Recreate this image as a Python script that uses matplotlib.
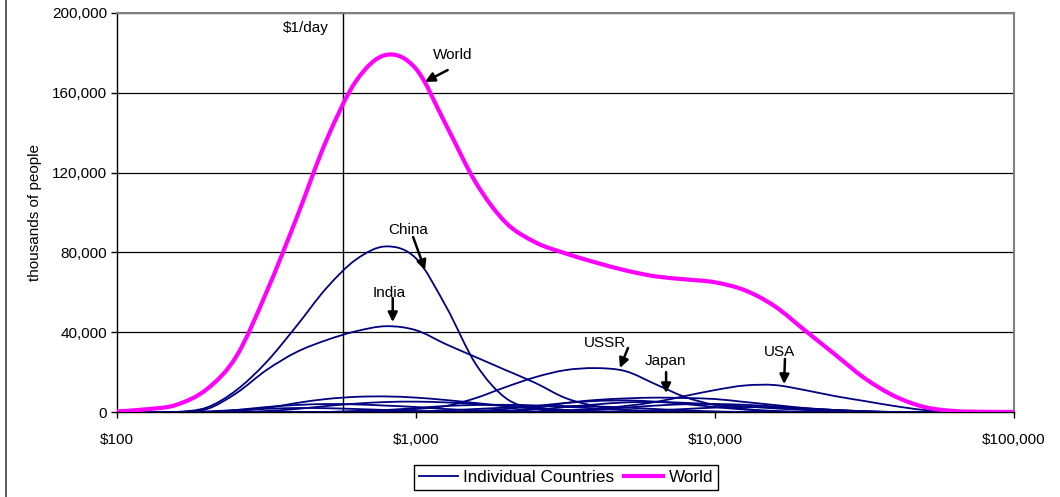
import matplotlib
matplotlib.use('Agg')
import matplotlib.pyplot as plt
import numpy as np
from matplotlib.lines import Line2D
from matplotlib.path import Path
from matplotlib.patches import PathPatch
from matplotlib.ticker import FixedLocator, FuncFormatter, NullLocator

plt.rcParams['font.family'] = ['Liberation Sans', 'DejaVu Sans']

# income grid: ten steps per decade from $100 to $100,000
income = [100, 126, 158, 200, 251, 316, 398, 501, 631, 794,
          1000, 1259, 1585, 1995, 2512, 3162, 3981, 5012, 6310, 7943,
          10000, 12589, 15849, 19953, 25119, 31623, 39811, 50119, 63096, 79433,
          100000]

# thousands of people
world = [0.3, 1.4, 3.6, 11.5, 28, 60, 97, 136, 166, 179,
         172, 144, 115, 95, 85, 79.5, 75, 71, 68, 66.5,
         65, 61, 53, 41, 29, 17, 8, 2.5, 0.5, 0.1, 0]
china = [0, 0, 0, 2.3, 11, 25, 43, 62, 76.5, 83,
         77, 53, 24, 7, 1.5, 0.3, 0, 0, 0, 0,
         0, 0, 0, 0, 0, 0, 0, 0, 0, 0, 0]
india = [0, 0, 0, 1.5, 9.5, 21, 30, 36, 40.5, 43,
         41, 34, 27.5, 21, 14.5, 7, 3, 1, 0.3, 0,
         0, 0, 0, 0, 0, 0, 0, 0, 0, 0, 0]
ussr = [0, 0, 0, 0, 0, 0, 0, 0, 0.3, 0.8,
        1.5, 3, 7, 12.5, 17.5, 21, 22, 20.5, 14, 7.5,
        3.5, 1.5, 0.5, 0, 0, 0, 0, 0, 0, 0, 0]
japan = [0, 0, 0, 0, 0, 0, 0, 0, 0, 0,
         0, 0, 0, 0.5, 2, 4.5, 6, 6.8, 7.2, 7,
         6.5, 5, 3.5, 2, 1, 0.3, 0, 0, 0, 0, 0]
usa = [0, 0, 0, 0, 0, 0, 0, 0, 0, 0,
       0, 0, 0, 0, 0, 0.8, 1.5, 3, 5, 8,
       11, 13.3, 13.5, 11, 8, 5.5, 3, 1, 0.2, 0, 0]
others = [
    [0, 0, 0, 0, 0.5, 2, 4.5, 6.5, 7.6, 7.8, 7.2, 6, 4.5, 3, 1.8, 0.8, 0.3, 0, 0, 0, 0, 0, 0, 0, 0, 0, 0, 0, 0, 0, 0],
    [0, 0, 0, 0, 0, 0.5, 1.5, 3, 4.2, 5, 5.2, 4.8, 4, 3, 2, 1, 0.4, 0, 0, 0, 0, 0, 0, 0, 0, 0, 0, 0, 0, 0, 0],
    [0, 0, 0, 0, 1, 2.5, 3.5, 4, 3.8, 3.2, 2.5, 1.5, 0.8, 0.3, 0, 0, 0, 0, 0, 0, 0, 0, 0, 0, 0, 0, 0, 0, 0, 0, 0],
    [0, 0, 0, 0, 0, 0, 0, 0, 0.5, 1, 2, 3, 3.5, 3.6, 3.3, 2.6, 1.8, 1, 0.5, 0, 0, 0, 0, 0, 0, 0, 0, 0, 0, 0, 0],
    [0, 0, 0, 0, 0, 0, 0, 0, 0, 0, 0, 0, 0, 0.5, 1.2, 2.5, 3.8, 4.8, 5, 4.6, 3.8, 2.8, 1.8, 1, 0.4, 0, 0, 0, 0, 0, 0],
    [0, 0, 0, 0, 0, 0, 0, 0, 0, 0, 0, 0, 0, 0, 0, 0.5, 1.2, 2.2, 3.2, 3.9, 4, 3.6, 2.8, 1.8, 1, 0.4, 0, 0, 0, 0, 0],
    [0, 0, 0, 0, 0, 0, 0, 0, 0, 0, 0.3, 0.8, 1.5, 2.2, 2.8, 3, 2.8, 2.2, 1.5, 0.8, 0.3, 0, 0, 0, 0, 0, 0, 0, 0, 0, 0],
    [0, 0, 0, 0, 0, 0, 0, 0, 0, 0, 0, 0, 0, 0, 0, 0, 0, 0.3, 0.8, 1.5, 2.2, 2.5, 2.3, 1.7, 1, 0.4, 0, 0, 0, 0, 0],
    [0, 0, 0, 0.3, 1, 1.6, 2, 1.9, 1.5, 1, 0.5, 0.2, 0, 0, 0, 0, 0, 0, 0, 0, 0, 0, 0, 0, 0, 0, 0, 0, 0, 0, 0],
    [0, 0, 0, 0, 0, 0, 0, 0, 0, 0, 0, 0, 0.5, 1.5, 3, 4.5, 5.5, 5.8, 5.2, 4, 2.5, 1.2, 0.4, 0, 0, 0, 0, 0, 0, 0, 0],
]

one_dollar_day = 570
x_ticks = [100, 1000, 10000, 100000]
y_ticks = [0, 40000, 80000, 120000, 160000, 200000]

# label, text position, arrow tail, arrow tip (income, people)
labels = [
    ('World', (1330, 179000), (1276, 171400), (1072, 165500)),
    ('China', (940, 91200), (978, 87700), (1072, 71200)),
    ('India', (813, 59600), (836, 57100), (836, 45100)),
    ('USSR', (4285, 34600), (5117, 32100), (4810, 22100)),
    ('Japan', (6808, 25600), (6862, 20000), (6862, 9500)),
    ('USA', (16370, 30000), (17140, 26600), (17020, 14000)),
]

NAVY = '#000080'
MAGENTA = '#FF00FF'


def smooth_line(ax, xs, ys, color, lw, zorder):
    # Excel-style smoothed line: Catmull-Rom segments as cubic Beziers in log-x space
    lx = np.log10(np.asarray(xs, dtype=float))
    y = np.asarray(ys, dtype=float)
    px = np.concatenate([[lx[0]], lx, [lx[-1]]])
    py = np.concatenate([[y[0]], y, [y[-1]]])
    verts = [(xs[0], y[0])]
    codes = [Path.MOVETO]
    for i in range(1, len(lx)):
        c1x = px[i] + (px[i + 1] - px[i - 1]) / 6
        c1y = py[i] + (py[i + 1] - py[i - 1]) / 6
        c2x = px[i + 1] - (px[i + 2] - px[i]) / 6
        c2y = py[i + 1] - (py[i + 2] - py[i]) / 6
        verts += [(10 ** c1x, max(c1y, 0)), (10 ** c2x, max(c2y, 0)), (10 ** px[i + 1], py[i + 1])]
        codes += [Path.CURVE4] * 3
    ax.add_patch(PathPatch(Path(verts, codes), fill=False, edgecolor=color, lw=lw,
                           zorder=zorder, capstyle='butt'))


fig = plt.figure(figsize=(10.6, 4.97), dpi=100)
ax = fig.add_axes([117 / 1060, 1 - 412 / 497, (1014 - 117) / 1060, (412 - 13) / 497])
ax.set_xscale('log')
ax.set_xlim(100, 100000)
ax.set_ylim(0, 200000)

k = 1000
for s in others + [usa, japan, ussr, india, china]:
    smooth_line(ax, income, [v * k for v in s], NAVY, 1.3, 3)
smooth_line(ax, income, [v * k for v in world], MAGENTA, 3, 4)

ax.axvline(one_dollar_day, color='black', lw=1.0, zorder=2)
ax.text(one_dollar_day / 1.113, 192500, '$1/day', ha='right', va='center', fontsize=11)

ax.xaxis.set_major_locator(FixedLocator(x_ticks))
ax.xaxis.set_minor_locator(NullLocator())
ax.xaxis.set_major_formatter(FuncFormatter(lambda v, p: '${:,.0f}'.format(v)))
ax.yaxis.set_major_locator(FixedLocator(y_ticks))
ax.yaxis.set_major_formatter(FuncFormatter(lambda v, p: '{:,.0f}'.format(v)))
ax.tick_params(axis='both', direction='out', length=4, width=1, labelsize=11, colors='black')
ax.tick_params(axis='x', pad=11)
ax.tick_params(axis='y', pad=3)
ax.yaxis.grid(True, color='black', lw=0.9, zorder=1)
ax.set_axisbelow(True)
ax.set_ylabel('thousands of people', fontsize=11, labelpad=7)

for side in ['top', 'right']:
    ax.spines[side].set_color('#808080')
    ax.spines[side].set_linewidth(1.5)
for side in ['left', 'bottom']:
    ax.spines[side].set_color('black')
    ax.spines[side].set_linewidth(1.0)

for name, pos, tail, tip in labels:
    ax.text(pos[0], pos[1], name, ha='center', va='center', fontsize=11, zorder=6)
    ax.annotate('', xy=tip, xytext=tail,
                arrowprops=dict(arrowstyle='-|>', lw=1.8, color='black', mutation_scale=14,
                                shrinkA=0, shrinkB=0),
                zorder=6)

handles = [Line2D([0], [0], color=NAVY, lw=1.3), Line2D([0], [0], color=MAGENTA, lw=3)]
fig.legend(handles, ['Individual Countries', 'World'], loc='center',
           bbox_to_anchor=(566 / 1060, 1 - 477.5 / 497), ncol=2, fontsize=12.3,
           frameon=True, fancybox=False, edgecolor='black', framealpha=1,
           handlelength=2.3, handletextpad=0.3, columnspacing=0.55, borderpad=0.3,
           borderaxespad=0)

fig.add_artist(Line2D([5.5 / 1060, 5.5 / 1060], [0, 1], color='#404040', lw=1.2))

fig.savefig('out.png', dpi=100, facecolor='white')
